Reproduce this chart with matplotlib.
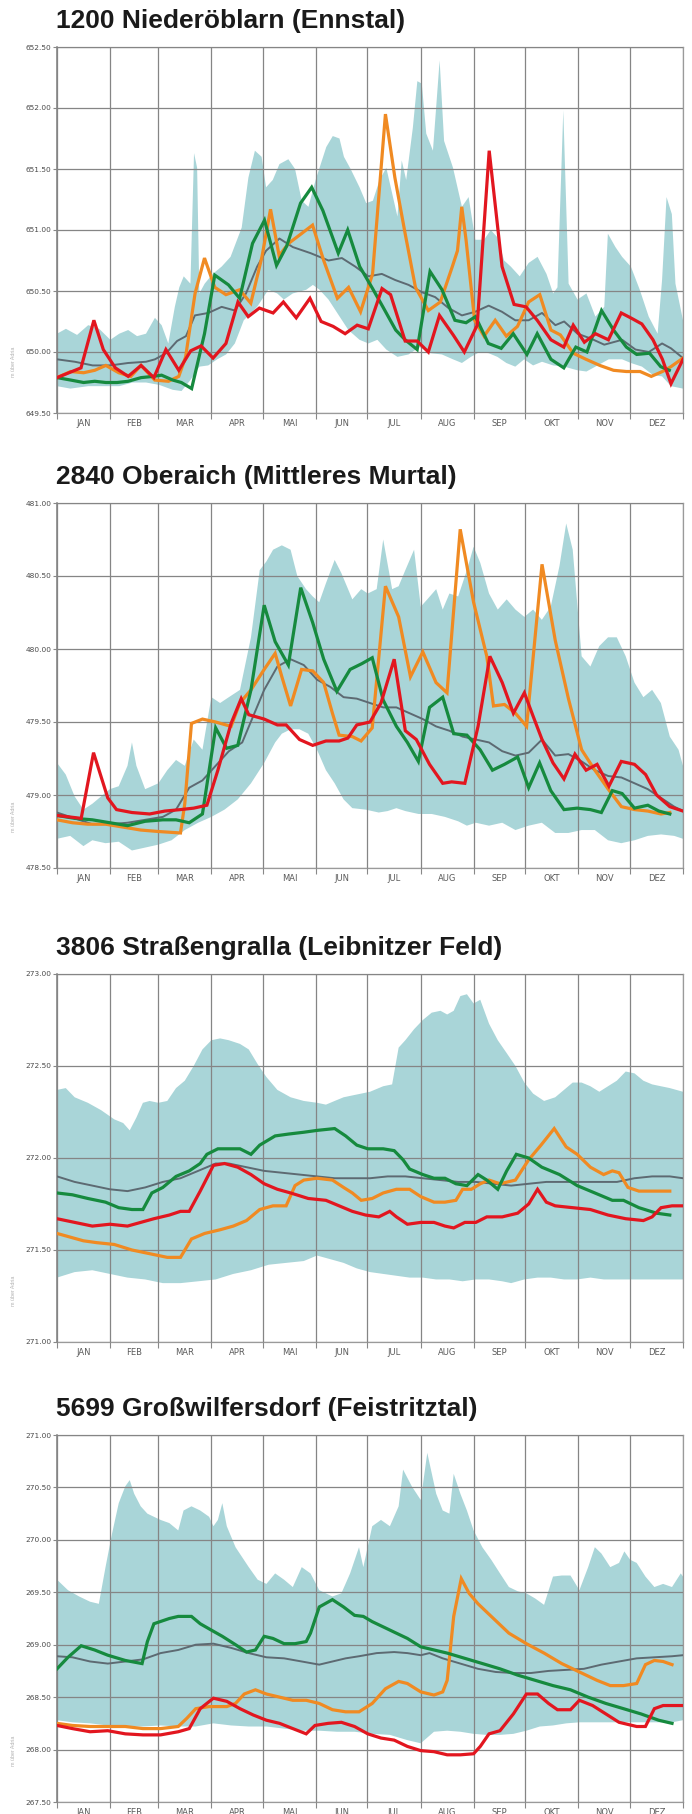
import numpy as np
import matplotlib.pyplot as plt

MONTHS = ['JAN', 'FEB', 'MAR', 'APR', 'MAI', 'JUN', 'JUL', 'AUG', 'SEP', 'OKT', 'NOV', 'DEZ']
MONTH_EDGES = [0, 31, 59, 90, 120, 151, 181, 212, 243, 273, 304, 334, 365]

BAND_COLOR = '#a9d5d8'
MEAN_COLOR = '#5d6a72'
ORANGE = '#f08a22'
GREEN = '#168a3e'
RED = '#e2161f'

# ---------------- 1200 Niederöblarn (Ennstal) ----------------
enn_title = '1200 Niederöblarn (Ennstal)'
enn_ylim = (649.5, 652.5)
enn_hi_day = [0, 5.2, 11.7, 18.2, 24.6, 31.1, 36.3, 41.5, 46.7, 51.9, 57.1, 61.0, 64.9, 68.7, 71.3, 73.9, 77.8, 79.9, 81.7, 83.0,
              86.1, 90.8, 96.0, 101.2, 107.7, 111.6, 115.4, 119.3, 121.9, 125.8, 129.7, 134.9, 138.8, 142.7, 146.6, 150.8, 157.0, 160.8, 164.7, 167.3,
              171.2, 176.4, 180.3, 184.2, 188.1, 192.0, 194.6, 198.5, 201.0, 203.6, 207.5, 210.1, 212.7, 215.3, 219.2, 223.1, 225.7, 230.9, 236.1, 240.0,
              243.9, 249.0, 252.9, 256.8, 260.7, 264.6, 269.8, 275.0, 280.2, 285.4, 289.3, 291.8, 295.2, 298.3, 303.5, 308.7, 313.9, 319.1, 321.2, 325.6,
              329.5, 334.6, 339.8, 345.0, 350.2, 352.8, 355.4, 358.5, 360.6, 365]
enn_hi = [650.15, 650.19, 650.14, 650.22, 650.19, 650.10, 650.15, 650.18, 650.13, 650.15, 650.28, 650.22, 650.07, 650.37, 650.53, 650.62, 650.56, 651.63, 651.51, 650.48,
          650.56, 650.64, 650.70, 650.78, 651.02, 651.43, 651.65, 651.60, 651.35, 651.41, 651.54, 651.58, 651.50, 651.24, 651.19, 651.41, 651.68, 651.77, 651.75, 651.60,
          651.50, 651.35, 651.22, 651.24, 651.41, 651.51, 651.35, 651.11, 651.57, 651.41, 651.84, 652.22, 652.20, 651.79, 651.65, 652.39, 651.73, 651.51, 651.19, 651.27,
          650.92, 650.92, 651.00, 650.94, 650.75, 650.70, 650.62, 650.73, 650.78, 650.64, 650.48, 650.53, 651.98, 650.56, 650.43, 650.48, 650.29, 650.37, 650.97, 650.86,
          650.78, 650.70, 650.51, 650.29, 650.15, 650.59, 651.27, 651.13, 650.56, 650.26]
enn_lo_day = [0, 7.8, 18.2, 28.5, 36.3, 44.1, 51.9, 59.7, 67.5, 72.6, 77.8, 83.0, 88.2, 93.4, 98.6, 103.7, 108.9, 116.7, 123.2, 128.4,
              132.3, 137.5, 145.3, 149.2, 153.1, 158.3, 163.4, 169.9, 176.4, 181.6, 186.8, 192.0, 198.5, 205.0, 211.4, 217.9, 224.4, 230.9, 236.1, 241.3,
              246.5, 251.7, 256.8, 262.0, 267.2, 272.4, 277.6, 282.8, 289.3, 295.7, 303.5, 308.7, 313.9, 321.7, 329.5, 334.6, 341.1, 347.6, 352.8, 358.0, 365]
enn_lo = [649.72, 649.70, 649.72, 649.72, 649.72, 649.75, 649.75, 649.73, 649.69, 649.68, 649.77, 649.88, 649.89, 649.94, 649.98, 650.07, 650.26, 650.37, 650.51, 650.48,
          650.43, 650.48, 650.51, 650.55, 650.51, 650.43, 650.32, 650.18, 650.10, 650.07, 650.10, 650.02, 649.96, 649.98, 650.04, 649.99, 649.98, 649.94, 649.91, 649.96,
          650.00, 649.99, 649.96, 649.91, 649.88, 649.94, 649.89, 649.92, 649.89, 649.88, 649.85, 649.84, 649.88, 649.94, 649.94, 649.91, 649.88, 649.81, 649.80, 649.72, 649.70]
enn_mean_day = [0, 10.4, 20.8, 31.1, 41.5, 51.9, 57.1, 63.6, 70.0, 75.2, 80.4, 88.2, 96.0, 103.7, 110.2, 116.7, 121.9, 129.7, 137.5, 147.9,
                158.3, 166.1, 173.9, 181.6, 189.4, 197.2, 205.0, 212.8, 220.5, 228.3, 236.1, 243.9, 251.7, 259.4, 267.2, 275.0, 282.8, 290.6, 295.7, 303.5,
                311.3, 319.1, 329.5, 337.3, 345.1, 352.8, 358.0, 365]
enn_mean = [649.94, 649.92, 649.89, 649.89, 649.91, 649.92, 649.94, 649.99, 650.09, 650.13, 650.30, 650.32, 650.37, 650.34, 650.48, 650.70, 650.83, 650.93, 650.86, 650.81,
            650.75, 650.77, 650.70, 650.62, 650.64, 650.59, 650.55, 650.49, 650.45, 650.36, 650.30, 650.33, 650.38, 650.33, 650.26, 650.26, 650.32, 650.22, 650.25, 650.15,
            650.11, 650.06, 650.10, 650.02, 650.00, 650.07, 650.03, 649.95]
enn_orange_day = [0, 8, 15.5, 22, 28.5, 36, 43, 49, 57, 65, 71, 75, 80.5, 86, 92, 98.5, 106.5, 113, 119.5, 124.5,
                  129.5, 135, 142.5, 149, 155.5, 163.5, 170, 177, 184, 191.5, 197, 203, 209, 216.5, 223.5, 230.5, 233.5, 236, 238.5, 243.5,
                  249, 255.5, 262, 268.5, 275, 281.5, 288, 293.5, 301, 308.5, 316.5, 324.5, 332, 340, 346.5, 353, 358, 365]
enn_orange = [649.79, 649.84, 649.83, 649.85, 649.89, 649.83, 649.80, 649.89, 649.77, 649.76, 649.80, 649.96, 650.48, 650.77, 650.53, 650.47, 650.51, 650.40, 650.78, 651.17,
              650.79, 650.89, 650.97, 651.04, 650.75, 650.44, 650.53, 650.33, 650.64, 651.95, 651.43, 650.97, 650.53, 650.34, 650.41, 650.70, 650.83, 651.19, 650.92, 650.26,
              650.13, 650.26, 650.13, 650.21, 650.41, 650.47, 650.18, 650.14, 649.99, 649.94, 649.89, 649.85, 649.84, 649.84, 649.80, 649.84, 649.88, 649.95]
enn_green_day = [0, 8, 15.5, 22, 28.5, 35, 41.5, 49, 56, 61, 67.5, 72.5, 78.5, 86, 92, 100, 106.5, 114, 121, 128,
                 134, 142, 148.5, 155, 164, 169.5, 176.5, 184, 190, 197.5, 203, 210, 217.5, 224.5, 232, 238.5, 244, 251.5, 259, 266,
                 274, 280, 288, 295.5, 302.5, 309, 317.5, 324.5, 332, 338, 345.5, 352, 357]
enn_green = [649.79, 649.77, 649.75, 649.76, 649.75, 649.75, 649.76, 649.79, 649.80, 649.81, 649.77, 649.75, 649.70, 650.15, 650.63, 650.55, 650.44, 650.89, 651.08, 650.71,
             650.87, 651.22, 651.35, 651.16, 650.81, 651.00, 650.70, 650.52, 650.37, 650.18, 650.10, 650.02, 650.66, 650.51, 650.26, 650.24, 650.29, 650.07, 650.03, 650.15,
             649.98, 650.15, 649.94, 649.87, 650.04, 650.00, 650.34, 650.18, 650.04, 649.98, 649.99, 649.88, 649.85]
enn_red_day = [0, 14, 21.5, 27, 34, 41.5, 49, 56.5, 63.5, 71, 78, 84, 91, 98.5, 105.5, 111.5, 118, 126, 132, 139.5,
               147.5, 154, 161, 168, 175, 181.5, 189.5, 194.5, 203, 210, 216.5, 223, 231, 237.5, 245, 252, 259.5, 266.5, 273.5, 280,
               288, 295.5, 301, 307.5, 314, 321.5, 329, 334.5, 341, 347.5, 353, 358, 365]
enn_red = [649.79, 649.87, 650.26, 650.02, 649.87, 649.80, 649.89, 649.79, 650.02, 649.85, 650.01, 650.05, 649.95, 650.07, 650.41, 650.29, 650.36, 650.32, 650.41, 650.28,
           650.44, 650.25, 650.21, 650.15, 650.22, 650.19, 650.52, 650.47, 650.09, 650.09, 650.00, 650.30, 650.14, 650.00, 650.22, 651.65, 650.70, 650.39, 650.37, 650.26,
           650.10, 650.04, 650.22, 650.08, 650.15, 650.10, 650.32, 650.28, 650.23, 650.10, 649.94, 649.74, 649.94]

# ---------------- 2840 Oberaich (Mittleres Murtal) ----------------
mur_title = '2840 Oberaich (Mittleres Murtal)'
mur_ylim = (478.5, 481.0)
mur_hi_day = [0, 5.1, 10.3, 15.4, 20.6, 25.7, 30.8, 36.0, 41.1, 43.7, 46.3, 51.4, 59.1, 64.3, 69.4, 74.5, 79.7, 84.8, 90.0, 95.1,
              100.2, 106.7, 113.1, 118.2, 122.1, 126.0, 131.1, 136.2, 140.1, 145.2, 149.1, 152.9, 156.8, 161.9, 165.8, 172.2, 177.4, 181.2, 186.4, 190.2,
              195.4, 199.2, 203.1, 208.2, 212.1, 215.9, 221.1, 224.9, 228.8, 233.9, 239.0, 242.9, 246.8, 251.9, 257.0, 262.2, 267.3, 272.5, 277.6, 282.7,
              287.9, 293.0, 296.9, 300.7, 305.9, 311.0, 316.2, 321.3, 326.4, 331.6, 336.7, 341.9, 347.0, 352.1, 357.3, 362.4, 365]
mur_hi = [479.22, 479.14, 478.99, 478.90, 478.94, 478.99, 479.04, 479.06, 479.20, 479.36, 479.20, 479.04, 479.08, 479.17, 479.24, 479.20, 479.38, 479.31, 479.67, 479.63,
          479.67, 479.72, 480.08, 480.54, 480.60, 480.68, 480.71, 480.68, 480.50, 480.41, 480.36, 480.32, 480.45, 480.61, 480.52, 480.34, 480.41, 480.38, 480.41, 480.75,
          480.41, 480.43, 480.54, 480.68, 480.29, 480.34, 480.41, 480.27, 480.38, 480.36, 480.54, 480.70, 480.59, 480.38, 480.27, 480.34, 480.27, 480.22, 480.27, 480.20,
          480.29, 480.57, 480.86, 480.68, 479.95, 479.88, 480.02, 480.08, 480.08, 479.95, 479.77, 479.67, 479.72, 479.63, 479.40, 479.31, 479.20]
mur_lo_day = [0, 7.7, 15.4, 20.6, 28.3, 36.0, 43.7, 51.4, 59.1, 66.8, 74.5, 82.3, 90.0, 97.7, 105.4, 113.1, 120.8, 127.2, 131.1, 136.2,
              141.4, 146.5, 151.6, 156.8, 161.9, 167.1, 172.2, 179.9, 187.6, 192.8, 197.9, 203.1, 210.8, 218.5, 226.2, 233.9, 239.0, 244.2, 251.9, 259.6,
              267.3, 275.0, 282.7, 290.5, 298.2, 305.9, 313.6, 321.3, 329.0, 336.7, 344.5, 352.2, 359.9, 365]
mur_lo = [478.70, 478.72, 478.65, 478.69, 478.67, 478.68, 478.62, 478.64, 478.66, 478.69, 478.76, 478.81, 478.85, 478.90, 478.97, 479.08, 479.22, 479.36, 479.42, 479.45,
          479.45, 479.42, 479.31, 479.17, 479.08, 478.97, 478.91, 478.90, 478.88, 478.89, 478.91, 478.89, 478.87, 478.87, 478.85, 478.82, 478.79, 478.81, 478.79, 478.81,
          478.76, 478.79, 478.81, 478.74, 478.74, 478.76, 478.76, 478.69, 478.67, 478.69, 478.72, 478.73, 478.72, 478.70]
mur_mean_day = [0, 10.3, 20.6, 30.8, 41.1, 51.4, 61.7, 69.4, 77.1, 84.8, 92.5, 100.2, 108.0, 114.4, 120.8, 128.5, 136.2, 143.9, 151.6, 159.4,
                167.1, 174.8, 182.5, 190.2, 197.9, 205.6, 213.3, 221.0, 228.8, 236.5, 244.2, 251.9, 259.6, 267.3, 275.0, 282.8, 290.5, 298.2, 305.9, 313.6,
                321.4, 329.1, 336.8, 344.5, 352.2, 359.9, 365]
mur_mean = [478.88, 478.84, 478.80, 478.80, 478.81, 478.83, 478.85, 478.90, 479.05, 479.10, 479.20, 479.30, 479.36, 479.54, 479.72, 479.88, 479.93, 479.89, 479.79, 479.74,
            479.67, 479.66, 479.63, 479.60, 479.60, 479.56, 479.52, 479.47, 479.44, 479.40, 479.38, 479.36, 479.30, 479.27, 479.29, 479.38, 479.27, 479.28, 479.23, 479.17,
            479.13, 479.12, 479.08, 479.04, 478.98, 478.92, 478.89]
mur_orange_day = [0, 9.0, 18.0, 28.3, 38.6, 48.8, 59.1, 72.0, 74.5, 78.4, 84.8, 92.5, 101.5, 106.6, 113.1, 120.8, 127.2, 131.1, 136.2, 142.6,
                  149.1, 155.5, 160.6, 164.5, 172.2, 177.3, 183.8, 191.5, 199.2, 206.1, 213.3, 221.0, 227.4, 235.1, 242.9, 250.6, 254.5, 260.9, 267.3, 273.8,
                  282.8, 290.5, 298.2, 305.9, 313.6, 321.4, 329.1, 336.8, 344.5, 352.2, 357.3]
mur_orange = [478.83, 478.81, 478.80, 478.80, 478.78, 478.76, 478.75, 478.74, 478.94, 479.49, 479.52, 479.50, 479.47, 479.63, 479.72, 479.86, 479.97, 479.81, 479.61, 479.86,
              479.85, 479.77, 479.56, 479.41, 479.40, 479.37, 479.46, 480.43, 480.22, 479.81, 479.98, 479.77, 479.70, 480.82, 480.32, 479.95, 479.61, 479.62, 479.56, 479.47,
              480.58, 480.06, 479.66, 479.31, 479.17, 479.04, 478.92, 478.90, 478.89, 478.87, 478.88]
mur_green_day = [0, 10.3, 20.6, 30.8, 41.1, 51.4, 61.7, 69.4, 77.1, 84.8, 92.5, 98.9, 105.4, 113.1, 120.8, 127.2, 134.9, 142.1, 149.1, 155.5,
                 163.2, 170.9, 177.8, 183.8, 190.2, 197.9, 204.3, 210.7, 217.2, 224.9, 231.3, 239.0, 246.7, 253.9, 260.9, 268.6, 275.0, 281.4, 287.9, 295.6,
                 303.3, 311.0, 317.4, 323.8, 329.5, 336.7, 344.5, 350.9, 357.3]
mur_green = [478.86, 478.84, 478.83, 478.81, 478.79, 478.82, 478.83, 478.83, 478.81, 478.87, 479.46, 479.32, 479.34, 479.72, 480.30, 480.05, 479.89, 480.42, 480.18, 479.93,
             479.71, 479.86, 479.90, 479.94, 479.65, 479.47, 479.36, 479.23, 479.60, 479.67, 479.42, 479.41, 479.31, 479.17, 479.21, 479.26, 479.05, 479.22, 479.03, 478.90,
             478.91, 478.90, 478.88, 479.03, 479.01, 478.91, 478.93, 478.89, 478.87]
mur_red_day = [0, 14.1, 21.3, 29.6, 34.7, 43.7, 54.0, 62.9, 72.0, 79.7, 87.4, 93.8, 101.5, 107.4, 111.8, 120.8, 128.5, 133.6, 141.4, 149.1,
               156.8, 164.5, 169.6, 174.8, 182.5, 188.9, 196.6, 203.1, 209.5, 217.2, 224.9, 230.1, 237.8, 245.5, 252.4, 259.6, 266.1, 272.5, 277.6, 282.8,
               289.2, 295.6, 302.0, 308.5, 314.9, 321.8, 329.0, 336.7, 343.2, 349.6, 357.3, 365]
mur_red = [478.86, 478.84, 479.29, 478.98, 478.90, 478.88, 478.87, 478.89, 478.90, 478.91, 478.93, 479.17, 479.49, 479.66, 479.55, 479.52, 479.48, 479.48, 479.38, 479.34,
           479.37, 479.37, 479.39, 479.48, 479.50, 479.63, 479.93, 479.44, 479.38, 479.21, 479.08, 479.09, 479.08, 479.47, 479.95, 479.77, 479.56, 479.70, 479.54, 479.38,
           479.22, 479.11, 479.28, 479.17, 479.21, 479.06, 479.23, 479.21, 479.14, 479.00, 478.92, 478.89]

# ---------------- 3806 Straßengralla (Leibnitzer Feld) ----------------
lei_title = '3806 Straßengralla (Leibnitzer Feld)'
lei_ylim = (271.0, 273.0)
lei_hi_day = [0, 5.1, 10.3, 18.0, 25.7, 33.4, 38.6, 42.4, 46.3, 50.1, 54.0, 59.1, 64.3, 69.4, 74.5, 79.7, 84.8, 90.0, 95.1, 100.2,
              106.7, 111.8, 117.0, 122.1, 128.5, 136.2, 143.9, 151.7, 156.8, 161.9, 167.1, 172.2, 177.4, 182.5, 190.2, 195.4, 199.2, 203.1, 208.2, 213.3,
              218.5, 223.6, 227.5, 231.3, 235.2, 239.0, 242.9, 246.8, 251.9, 257.0, 262.2, 267.3, 272.5, 277.6, 284.0, 290.5, 295.6, 300.7, 305.9, 311.0,
              316.2, 321.3, 326.4, 331.6, 336.7, 341.9, 347.0, 352.1, 357.3, 365]
lei_hi = [272.37, 272.38, 272.33, 272.30, 272.26, 272.21, 272.19, 272.15, 272.22, 272.30, 272.31, 272.30, 272.31, 272.38, 272.42, 272.50, 272.59, 272.64, 272.65, 272.64,
          272.62, 272.59, 272.51, 272.44, 272.37, 272.33, 272.31, 272.30, 272.29, 272.31, 272.33, 272.34, 272.35, 272.36, 272.39, 272.40, 272.60, 272.64, 272.70, 272.75,
          272.79, 272.80, 272.78, 272.80, 272.88, 272.89, 272.84, 272.86, 272.73, 272.64, 272.57, 272.50, 272.41, 272.35, 272.31, 272.33, 272.37, 272.41, 272.41, 272.39,
          272.36, 272.39, 272.42, 272.47, 272.46, 272.42, 272.40, 272.39, 272.38, 272.36]
lei_lo_day = [0, 10.3, 20.6, 30.8, 41.1, 51.4, 61.7, 72.0, 82.3, 92.5, 102.8, 113.1, 123.4, 133.6, 143.9, 151.6, 159.4, 167.1, 174.8, 182.5,
              190.2, 197.9, 205.6, 213.3, 221.0, 228.8, 236.5, 244.2, 251.9, 259.6, 264.8, 272.5, 280.2, 287.9, 295.6, 303.3, 311.0, 318.8, 326.5, 334.2,
              341.9, 349.6, 357.3, 365]
lei_lo = [271.35, 271.38, 271.39, 271.37, 271.35, 271.34, 271.32, 271.32, 271.33, 271.34, 271.37, 271.39, 271.42, 271.43, 271.44, 271.47, 271.45, 271.43, 271.40, 271.38,
          271.37, 271.36, 271.35, 271.35, 271.34, 271.34, 271.33, 271.34, 271.34, 271.33, 271.32, 271.34, 271.35, 271.35, 271.34, 271.34, 271.35, 271.34, 271.34, 271.34,
          271.34, 271.34, 271.34, 271.34]
lei_mean_day = [0, 10.3, 20.6, 30.8, 41.1, 51.4, 61.7, 72.0, 82.3, 92.5, 100.2, 110.5, 120.8, 131.1, 141.4, 151.6, 161.9, 172.2, 182.5, 192.8,
                203.1, 213.3, 223.6, 233.9, 244.2, 254.5, 264.8, 275.0, 285.3, 295.6, 305.9, 316.2, 326.5, 336.7, 347.0, 357.3, 365]
lei_mean = [271.90, 271.87, 271.85, 271.83, 271.82, 271.84, 271.87, 271.89, 271.93, 271.97, 271.97, 271.95, 271.93, 271.92, 271.91, 271.90, 271.89, 271.89, 271.89, 271.90,
            271.90, 271.89, 271.88, 271.87, 271.87, 271.86, 271.85, 271.86, 271.87, 271.87, 271.87, 271.87, 271.87, 271.89, 271.90, 271.90, 271.89]
lei_orange_day = [0, 7.7, 15.4, 23.1, 33.4, 43.7, 54.0, 64.3, 72.0, 78.4, 86.1, 95.1, 102.8, 110.5, 118.2, 125.9, 133.6, 138.8, 143.9, 151.6,
                  160.6, 167.1, 172.2, 177.4, 183.8, 190.2, 197.9, 205.6, 212.1, 219.8, 226.2, 232.6, 236.5, 241.6, 246.8, 251.9, 258.3, 267.3, 275.0, 282.2,
                  289.9, 296.9, 303.3, 311.0, 318.7, 323.8, 327.7, 332.9, 339.3, 347.0, 357.3]
lei_orange = [271.59, 271.57, 271.55, 271.54, 271.53, 271.50, 271.48, 271.46, 271.46, 271.56, 271.59, 271.61, 271.63, 271.66, 271.72, 271.74, 271.74, 271.85, 271.88, 271.89,
              271.88, 271.84, 271.81, 271.77, 271.78, 271.81, 271.83, 271.83, 271.79, 271.76, 271.76, 271.77, 271.83, 271.83, 271.86, 271.88, 271.86, 271.88, 271.99, 272.07,
              272.16, 272.06, 272.02, 271.95, 271.91, 271.93, 271.92, 271.84, 271.82, 271.82, 271.82]
lei_green_day = [0, 9.0, 18.0, 28.3, 36.0, 43.7, 50.1, 55.3, 61.7, 69.4, 77.1, 83.5, 87.4, 93.8, 100.2, 106.7, 113.1, 118.2, 127.2, 134.9,
                 143.9, 151.6, 161.9, 168.3, 174.8, 181.2, 190.2, 196.6, 201.8, 205.6, 213.3, 219.8, 226.2, 232.6, 239.0, 245.5, 250.6, 257.0, 262.2, 267.8,
                 275.0, 282.7, 293.0, 303.3, 313.6, 323.8, 330.3, 339.3, 349.6, 357.3]
lei_green = [271.81, 271.80, 271.78, 271.76, 271.73, 271.72, 271.72, 271.81, 271.84, 271.90, 271.93, 271.97, 272.02, 272.05, 272.05, 272.05, 272.02, 272.07, 272.12, 272.13,
             272.14, 272.15, 272.16, 272.12, 272.07, 272.05, 272.05, 272.04, 271.99, 271.94, 271.91, 271.89, 271.89, 271.86, 271.85, 271.91, 271.88, 271.83, 271.93, 272.02,
             272.00, 271.95, 271.91, 271.85, 271.81, 271.77, 271.77, 271.73, 271.70, 271.69]
lei_red_day = [0, 10.3, 20.6, 30.8, 41.1, 48.8, 56.5, 65.5, 72.0, 77.1, 83.5, 91.2, 97.7, 105.4, 113.1, 120.8, 128.5, 136.2, 146.5, 156.8,
               164.5, 172.2, 179.9, 187.6, 194.0, 197.9, 204.3, 212.1, 219.8, 226.2, 231.3, 237.8, 244.2, 250.6, 259.6, 268.6, 275.0, 280.2, 285.3, 290.5,
               300.7, 311.0, 321.3, 331.6, 341.9, 347.0, 352.2, 358.6, 365]
lei_red = [271.67, 271.65, 271.63, 271.64, 271.63, 271.65, 271.67, 271.69, 271.71, 271.71, 271.82, 271.96, 271.97, 271.95, 271.91, 271.86, 271.83, 271.81, 271.78, 271.77,
           271.74, 271.71, 271.69, 271.68, 271.71, 271.68, 271.64, 271.65, 271.65, 271.63, 271.62, 271.65, 271.65, 271.68, 271.68, 271.70, 271.75, 271.83, 271.76, 271.74,
           271.73, 271.72, 271.69, 271.67, 271.66, 271.68, 271.73, 271.74, 271.74]

# ---------------- 5699 Großwilfersdorf (Feistritztal) ----------------
fei_title = '5699 Großwilfersdorf (Feistritztal)'
fei_ylim = (267.5, 271.0)
fei_hi_day = [0, 6.4, 12.9, 19.3, 24.4, 28.3, 32.1, 36.0, 39.8, 42.4, 45.0, 48.8, 52.7, 56.5, 60.4, 65.5, 70.7, 73.8, 78.4, 83.5,
              88.7, 91.2, 93.8, 96.4, 99.0, 104.1, 111.8, 117.0, 122.1, 127.2, 132.4, 137.5, 142.7, 147.8, 152.9, 160.6, 165.8, 170.9, 176.1, 178.6,
              183.8, 188.9, 194.1, 199.2, 201.8, 206.9, 212.1, 215.9, 221.1, 224.9, 228.8, 231.3, 235.2, 239.0, 242.9, 248.0, 253.2, 258.3, 263.5, 268.6,
              273.7, 278.9, 284.0, 289.2, 294.3, 299.4, 304.6, 309.7, 313.6, 317.4, 322.6, 327.7, 330.8, 334.2, 338.0, 343.1, 348.3, 353.4, 358.6, 363.7, 365]
fei_hi = [269.62, 269.52, 269.46, 269.41, 269.39, 269.74, 270.06, 270.35, 270.51, 270.57, 270.44, 270.32, 270.25, 270.22, 270.19, 270.16, 270.09, 270.28, 270.32, 270.28,
          270.22, 270.13, 270.19, 270.35, 270.13, 269.93, 269.74, 269.62, 269.58, 269.68, 269.62, 269.55, 269.74, 269.68, 269.52, 269.46, 269.49, 269.68, 269.93, 269.74,
          270.13, 270.19, 270.13, 270.32, 270.67, 270.51, 270.38, 270.83, 270.44, 270.28, 270.25, 270.63, 270.44, 270.28, 270.09, 269.93, 269.81, 269.68, 269.55, 269.51,
          269.49, 269.44, 269.38, 269.65, 269.66, 269.66, 269.52, 269.74, 269.93, 269.87, 269.74, 269.78, 269.89, 269.81, 269.78, 269.65, 269.55, 269.58, 269.55, 269.68, 269.65]
fei_lo_day = [0, 9.0, 19.3, 29.6, 39.8, 50.1, 60.4, 70.7, 80.9, 91.2, 101.5, 111.8, 122.1, 132.4, 142.7, 152.9, 163.2, 173.5, 183.8, 194.1,
              204.3, 212.1, 219.8, 227.5, 235.2, 242.9, 250.6, 258.3, 266.1, 273.7, 281.5, 289.2, 296.9, 304.6, 312.3, 320.0, 327.7, 335.4, 343.1, 350.8, 358.6, 365]
fei_lo = [268.28, 268.26, 268.25, 268.23, 268.22, 268.22, 268.23, 268.22, 268.22, 268.25, 268.23, 268.22, 268.22, 268.20, 268.18, 268.18, 268.17, 268.17, 268.15, 268.14,
          268.09, 268.06, 268.17, 268.18, 268.17, 268.15, 268.14, 268.14, 268.15, 268.18, 268.22, 268.23, 268.25, 268.26, 268.26, 268.26, 268.26, 268.26, 268.26, 268.26, 268.26, 268.28]
fei_mean_day = [0, 9.0, 19.3, 29.6, 39.8, 50.1, 60.4, 70.7, 80.9, 91.2, 101.5, 111.8, 122.1, 132.4, 142.7, 152.9, 160.6, 168.3, 176.1, 186.4,
                196.6, 204.3, 212.1, 217.2, 224.9, 235.2, 245.5, 255.8, 266.1, 276.3, 286.6, 296.9, 307.2, 317.4, 327.7, 338.0, 348.3, 358.6, 365]
fei_mean = [268.89, 268.88, 268.84, 268.82, 268.84, 268.86, 268.92, 268.95, 269.00, 269.01, 268.97, 268.92, 268.88, 268.87, 268.84, 268.81, 268.84, 268.87, 268.89, 268.92,
            268.93, 268.92, 268.90, 268.92, 268.87, 268.82, 268.77, 268.74, 268.73, 268.73, 268.75, 268.76, 268.77, 268.81, 268.84, 268.87, 268.88, 268.89, 268.90]
fei_orange_day = [0, 9.0, 19.3, 29.6, 39.8, 50.1, 60.4, 70.7, 75.8, 80.9, 88.7, 99.0, 104.1, 109.2, 115.7, 122.1, 129.8, 137.5, 145.3, 152.9,
                  160.6, 168.3, 176.1, 183.8, 191.5, 199.2, 204.3, 212.1, 219.8, 224.9, 227.5, 231.3, 235.7, 240.3, 245.5, 253.2, 263.5, 273.7, 284.0, 294.3,
                  304.6, 314.9, 322.6, 330.3, 338.0, 343.1, 348.3, 353.4, 358.6]
fei_orange = [268.25, 268.23, 268.22, 268.22, 268.22, 268.20, 268.20, 268.22, 268.30, 268.39, 268.41, 268.41, 268.44, 268.53, 268.57, 268.53, 268.50, 268.47, 268.47, 268.44,
              268.38, 268.36, 268.36, 268.44, 268.58, 268.65, 268.63, 268.55, 268.52, 268.55, 268.66, 269.27, 269.63, 269.49, 269.39, 269.27, 269.11, 269.01, 268.92, 268.82,
              268.74, 268.66, 268.61, 268.61, 268.63, 268.81, 268.85, 268.84, 268.81]
fei_green_day = [0, 6.4, 14.1, 21.9, 29.6, 39.8, 49.6, 52.7, 56.5, 65.5, 70.7, 78.4, 83.5, 89.9, 96.4, 104.1, 110.5, 115.7, 120.8, 125.9,
                 132.4, 138.8, 145.3, 147.8, 152.9, 160.6, 167.1, 173.5, 178.6, 183.8, 191.5, 196.6, 204.3, 212.1, 219.8, 227.5, 237.8, 248.1, 258.3, 268.6,
                 278.9, 289.2, 299.4, 309.7, 320.0, 330.3, 340.5, 350.8, 358.6]
fei_green = [268.77, 268.88, 268.99, 268.95, 268.90, 268.85, 268.82, 269.03, 269.20, 269.25, 269.27, 269.27, 269.20, 269.14, 269.08, 269.00, 268.93, 268.95, 269.08, 269.06,
             269.01, 269.01, 269.03, 269.11, 269.36, 269.43, 269.36, 269.28, 269.27, 269.22, 269.16, 269.12, 269.06, 268.98, 268.95, 268.92, 268.87, 268.82, 268.77, 268.71,
             268.66, 268.61, 268.57, 268.50, 268.44, 268.39, 268.34, 268.28, 268.25]
fei_red_day = [0, 9.0, 19.3, 29.6, 39.8, 50.1, 60.4, 70.7, 77.1, 83.5, 91.2, 99.0, 106.7, 114.4, 122.1, 129.8, 137.5, 145.3, 150.4, 158.1,
               165.8, 173.5, 181.2, 188.9, 196.6, 204.3, 212.1, 219.8, 227.5, 235.2, 242.9, 246.8, 251.9, 258.3, 266.1, 273.7, 280.2, 286.6, 291.8, 299.4,
               304.6, 312.3, 320.0, 327.7, 338.0, 343.1, 348.3, 353.4, 365]
fei_red = [268.23, 268.20, 268.17, 268.18, 268.15, 268.14, 268.14, 268.17, 268.20, 268.39, 268.49, 268.46, 268.39, 268.33, 268.28, 268.25, 268.20, 268.15, 268.23, 268.25,
           268.26, 268.22, 268.15, 268.11, 268.09, 268.03, 267.99, 267.98, 267.95, 267.95, 267.96, 268.03, 268.15, 268.18, 268.34, 268.53, 268.53, 268.44, 268.38, 268.38,
           268.47, 268.42, 268.34, 268.26, 268.22, 268.22, 268.39, 268.42, 268.42]

panels = [
    (enn_title, enn_ylim, enn_hi_day, enn_hi, enn_lo_day, enn_lo, enn_mean_day, enn_mean,
     enn_orange_day, enn_orange, enn_green_day, enn_green, enn_red_day, enn_red),
    (mur_title, mur_ylim, mur_hi_day, mur_hi, mur_lo_day, mur_lo, mur_mean_day, mur_mean,
     mur_orange_day, mur_orange, mur_green_day, mur_green, mur_red_day, mur_red),
    (lei_title, lei_ylim, lei_hi_day, lei_hi, lei_lo_day, lei_lo, lei_mean_day, lei_mean,
     lei_orange_day, lei_orange, lei_green_day, lei_green, lei_red_day, lei_red),
    (fei_title, fei_ylim, fei_hi_day, fei_hi, fei_lo_day, fei_lo, fei_mean_day, fei_mean,
     fei_orange_day, fei_orange, fei_green_day, fei_green, fei_red_day, fei_red),
]

W, H = 692, 1814
fig = plt.figure(figsize=(W / 100, H / 100), dpi=100)
plt.rcParams['font.family'] = ['Liberation Sans', 'DejaVu Sans']

# axes boxes in pixels: (top, bottom)
boxes = [(47, 413), (503, 868), (974, 1342), (1435, 1802)]
left_px, right_px = 57, 683

month_mid = [(MONTH_EDGES[i] + MONTH_EDGES[i + 1]) / 2 for i in range(12)]

for (title, ylim, hi_d, hi, lo_d, lo, m_d, m, o_d, o, g_d, g, r_d, r), (top, bot) in zip(panels, boxes):
    ax = fig.add_axes([left_px / W, 1 - bot / H, (right_px - left_px) / W, (bot - top) / H])
    poly_x = np.concatenate([hi_d, lo_d[::-1]])
    poly_y = np.concatenate([hi, lo[::-1]])
    ax.fill(poly_x, poly_y, color=BAND_COLOR, lw=0, zorder=1)

    ax.plot(m_d, m, color=MEAN_COLOR, lw=1.4, zorder=3)
    ax.plot(o_d, o, color=ORANGE, lw=2.3, zorder=4, solid_joinstyle='miter')
    ax.plot(g_d, g, color=GREEN, lw=2.3, zorder=5, solid_joinstyle='miter')
    ax.plot(r_d, r, color=RED, lw=2.3, zorder=6, solid_joinstyle='miter')

    ax.set_xlim(0, 365)
    ax.set_ylim(*ylim)
    yt = np.arange(ylim[0], ylim[1] + 0.01, 0.5)
    ax.set_yticks(yt)
    ax.set_yticklabels(['%.2f' % v for v in yt], family='DejaVu Sans')
    ax.set_xticks(MONTH_EDGES)
    ax.set_xticklabels([])
    ax.set_xticks(month_mid, minor=True)
    ax.set_xticklabels(MONTHS, minor=True, family='DejaVu Sans')

    ax.set_axisbelow(False)
    ax.grid(True, which='major', color='#858585', lw=0.9, zorder=2)
    ax.tick_params(axis='y', labelsize=5.3, labelcolor='#4a4a4a', length=3, width=0.8, color='#888888', pad=1)
    ax.tick_params(axis='x', which='major', length=4, width=0.8, color='#888888', direction='out')
    ax.tick_params(axis='x', which='minor', length=0, labelsize=6, labelcolor='#5a5a5a', pad=4)
    for side in ['top', 'right', 'bottom']:
        ax.spines[side].set_color('#9a9a9a')
        ax.spines[side].set_linewidth(0.9)
    ax.spines['left'].set_color('#7a7a7a')
    ax.spines['left'].set_linewidth(1.1)

    ax.annotate(title, xy=(0, 1), xycoords='axes fraction', xytext=(-1, 19),
                textcoords='offset points', ha='left', va='center',
                fontsize=19, fontweight='bold', color='#1a1a1a')
    ax.text(-0.07, 0.14, 'm über Adria', transform=ax.transAxes, rotation=90,
            fontsize=3.8, color='#b0b0b0', ha='center', va='center')

fig.savefig('out.png', dpi=100)
